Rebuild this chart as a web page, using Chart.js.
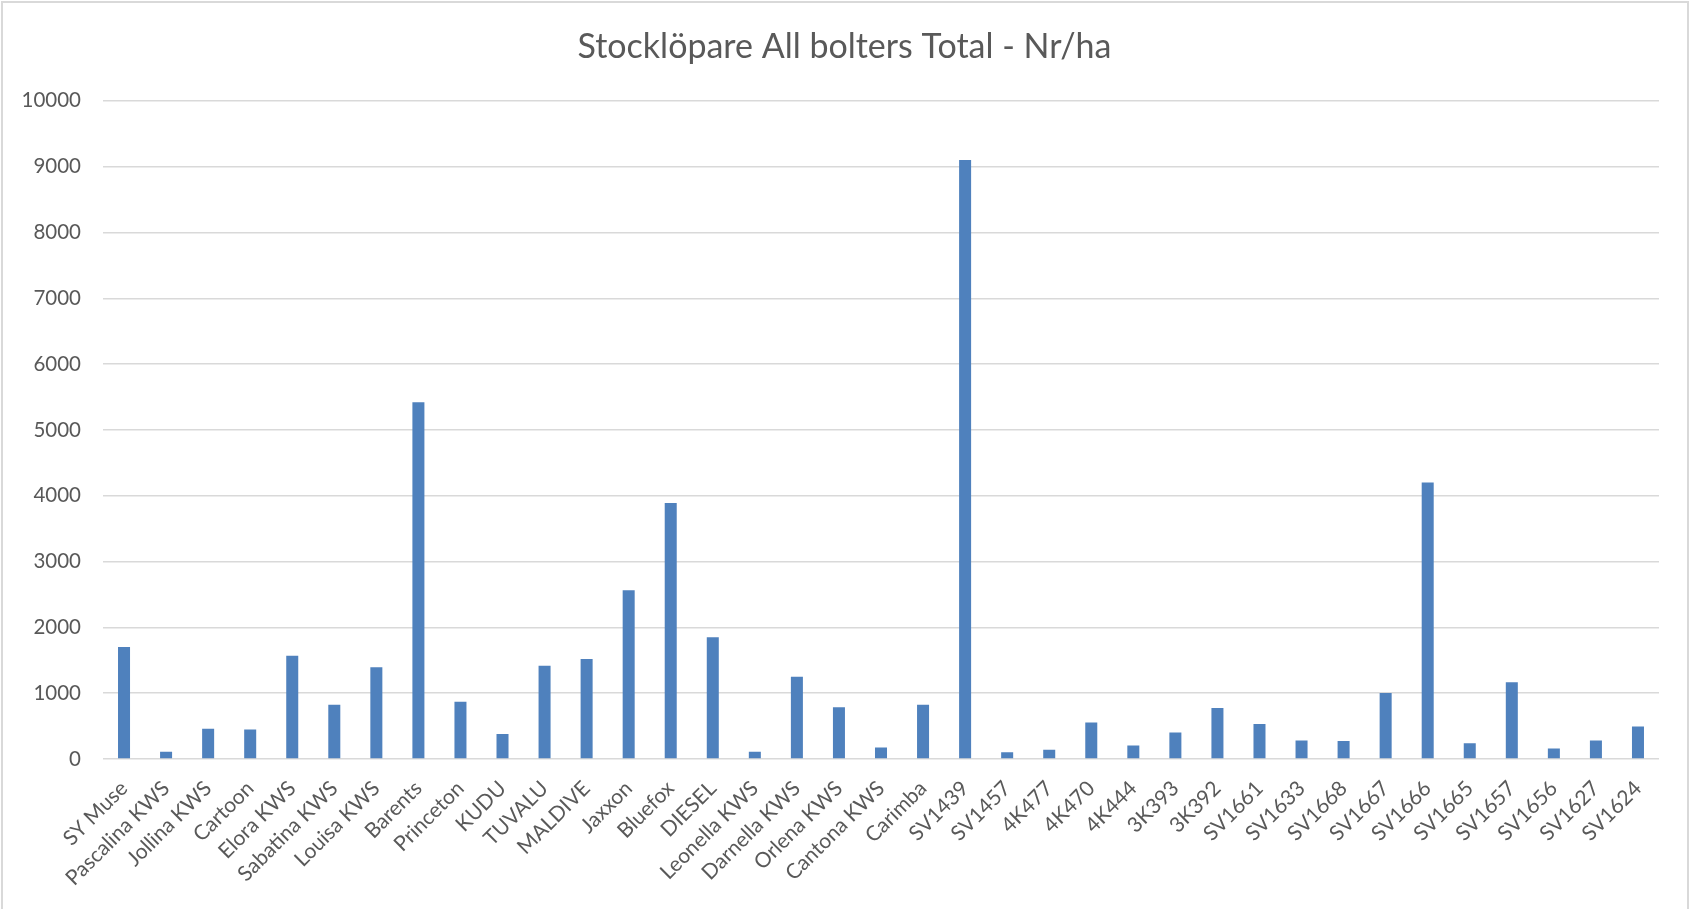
<!DOCTYPE html>
<html>
<head>
<meta charset="utf-8">
<script src="https://cdn.jsdelivr.net/npm/chart.js@4/dist/chart.umd.min.js"></script>
<style>
  html, body { margin: 0; padding: 0; background: #fff; overflow: hidden; }
  #frame { position: absolute; left: 1px; top: 1px; width: 1688px; height: 980px; border: 2px solid #d9d9d9; box-sizing: border-box; }
  #wrap { position: absolute; left: 0; top: 0; width: 1689px; height: 909px; }
</style>
</head>
<body>
<div id="frame"></div>
<div id="wrap"><canvas id="c" width="1689" height="909"></canvas></div>
<script>
const categories = ["SY Muse","Pascalina KWS","Jollina KWS","Cartoon","Elora KWS","Sabatina KWS","Louisa KWS","Barents","Princeton","KUDU","TUVALU","MALDIVE","Jaxxon","Bluefox","DIESEL","Leonella KWS","Darnella KWS","Orlena KWS","Cantona KWS","Carimba","SV1439","SV1457","4K477","4K470","4K444","3K393","3K392","SV1661","SV1633","SV1668","SV1667","SV1666","SV1665","SV1657","SV1656","SV1627","SV1624"];
const values = [1700,110,460,450,1570,825,1395,5420,870,380,1415,1520,2565,3890,1850,112,1250,785,173,825,9100,102,142,555,204,402,775,530,280,275,1003,4200,240,1165,158,280,495];
const yTicks = [0,1000,2000,3000,4000,5000,6000,7000,8000,9000,10000];
const chartTitle = "Stocklöpare All bolters Total - Nr/ha";

const FONT = "Lato, 'Open Sans', sans-serif";
new Chart(document.getElementById('c'), {
  type: 'bar',
  data: {
    labels: categories,
    datasets: [{
      label: 'Nr/ha',
      data: values,
      backgroundColor: '#4f81bd',
      borderWidth: 0,
      barPercentage: 1/3.5,
      categoryPercentage: 1.0
    }]
  },
  options: {
    responsive: false,
    animation: false,
    layout: { padding: { left: 0, right: 0, top: 27, bottom: 0 } },
    plugins: {
      legend: { display: false },
      tooltip: { enabled: false },
      title: {
        display: true,
        text: chartTitle,
        color: '#595959',
        font: { family: FONT, size: 34, weight: 'normal', lineHeight: 1.2 },
        padding: { top: 0, bottom: 33 }
      }
    },
    scales: {
      x: {
        grid: { display: false, drawTicks: false },
        border: { display: false },
        ticks: {
          color: '#595959',
          font: { family: FONT, size: 21 },
          maxRotation: 45, minRotation: 45,
          autoSkip: false,
          padding: 17
        },
        afterFit: (s) => { s.height = 150; }
      },
      y: {
        min: 0, max: 10000,
        afterBuildTicks: (s) => { s.ticks = yTicks.map(v => ({ value: v })); },
        grid: { color: '#d9d9d9', lineWidth: 1.5, drawTicks: false },
        border: { display: false },
        ticks: {
          color: '#595959',
          font: { family: FONT, size: 20.5 },
          padding: 22,
          callback: (v) => String(v)
        },
        afterFit: (s) => { s.width = 103; }
      },
      yRightSpace: {
        position: 'right',
        display: true,
        grid: { display: false, drawTicks: false },
        border: { display: false },
        ticks: { display: false },
        afterFit: (s) => { s.width = 30; }
      }
    }
  }
});
</script>
</body>
</html>
